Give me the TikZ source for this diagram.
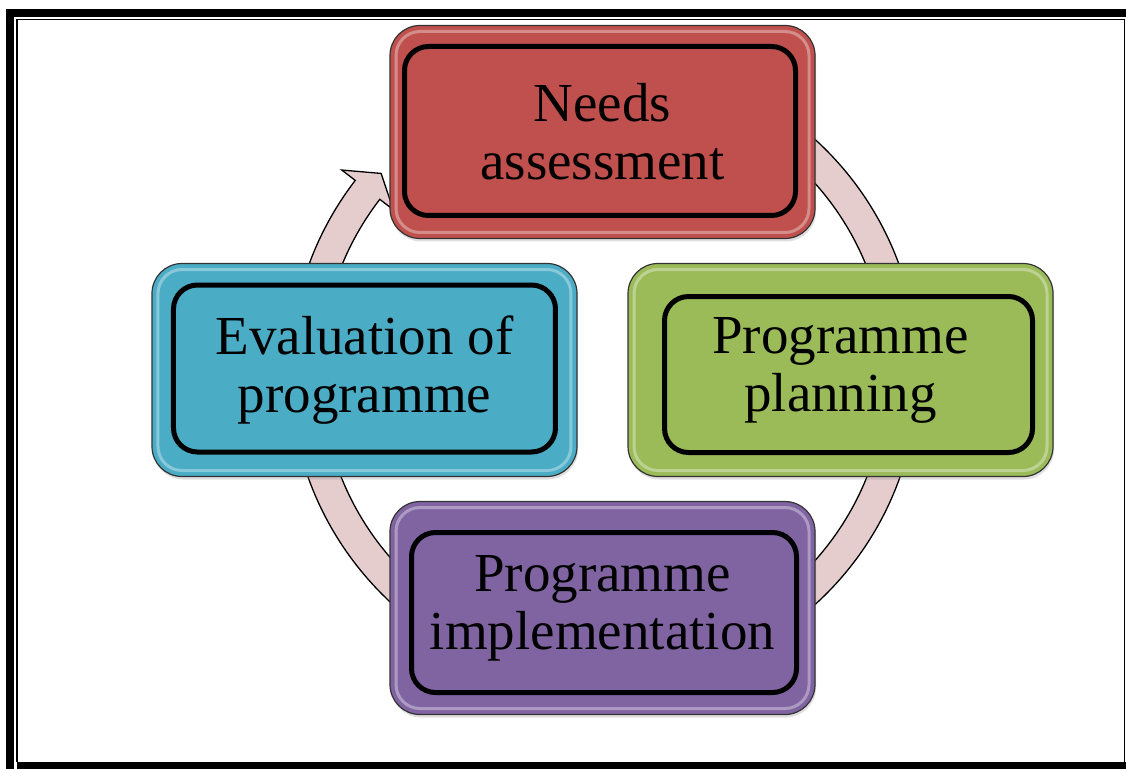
\documentclass[tikz,border=0pt]{standalone}
\usepackage{fontspec}
\setmainfont{Liberation Serif}
\usepackage{tikz}
\usetikzlibrary{positioning,shadows}
\definecolor{needsred}{RGB}{192,80,77}
\definecolor{plangreen}{RGB}{155,187,89}
\definecolor{implpurple}{RGB}{128,100,162}
\definecolor{evalblue}{RGB}{75,172,198}
\definecolor{bandpink}{RGB}{229,205,205}
\tikzset{
	node distance=336.6pt,
	every node/.style = {align=center, font=\fontsize{55}{58}\selectfont}
}

\begin{document}
\begin{tikzpicture}[x=1pt,y=1pt,
	box/.style={draw=black!80, line width=1.2pt, rounded corners=30pt, inner sep=0pt,
		minimum width=425pt, minimum height=213pt,
		drop shadow={opacity=.25, shadow xshift=1pt, shadow yshift=-3pt},
		path picture={\draw[white, opacity=.35, line width=3pt, rounded corners=24pt]
			([shift={(6pt,6pt)}]path picture bounding box.south west) rectangle
			([shift={(-6pt,-6pt)}]path picture bounding box.north east);}},
	frame/.style={draw, line width=5pt, rounded corners=24pt, inner sep=0pt},
	band/.style={fill=bandpink, draw=black, line width=1.3pt, line join=miter}]
	\useasboundingbox (0,0) rectangle (1126,769);
	% page frame
	\draw[line width=8pt] (1126,756) -- (10,756) -- (10,0);
	\draw[line width=7pt] (16.5,3.5) -- (1126,3.5);
	\draw[line width=1.5pt] (17,7) -- (17,749.5) -- (1124.5,749.5) -- (1124.5,7);
	% cycle arrow behind the boxes
	\coordinate (hub) at (604,397);
	\draw[band] ([shift={(80:314)}]hub) arc[start angle=80, end angle=-217.6, radius=314]
		-- ([shift={(142.4:331)}]hub) -- ([shift={(138.3:298.5)}]hub)
		-- ([shift={(142.4:266)}]hub) -- ([shift={(142.4:283)}]hub)
		arc[start angle=142.4, end angle=440, radius=283] -- cycle;
	% stages
	\node[box, fill=needsred] (needs) at (602.5,637) {Needs\\assessment};
	\node[box, fill=plangreen] (plan) [below right of=needs] {Programme\\planning};
	\node[box, fill=implpurple] (impl) [below left of=plan] {Programme\\implementation};
	\node[box, fill=evalblue] (eval) [above left of=impl] {Evaluation of\\programme};
	% inner frames
	\node[frame, minimum width=391pt, minimum height=169pt] (needs-f) at ([xshift=-2.5pt,yshift=1pt]needs.center) {};
	\node[frame, minimum width=368pt, minimum height=156pt] (plan-f) at ([xshift=8pt,yshift=-4.5pt]plan.center) {};
	\node[frame, minimum width=385pt, minimum height=160pt] (impl-f) at ([xshift=1.5pt,yshift=-4.5pt]impl.center) {};
	\node[frame, minimum width=382pt, minimum height=167pt] (eval-f) at ([yshift=1.5pt]eval.center) {};
\end{tikzpicture}
\end{document}
